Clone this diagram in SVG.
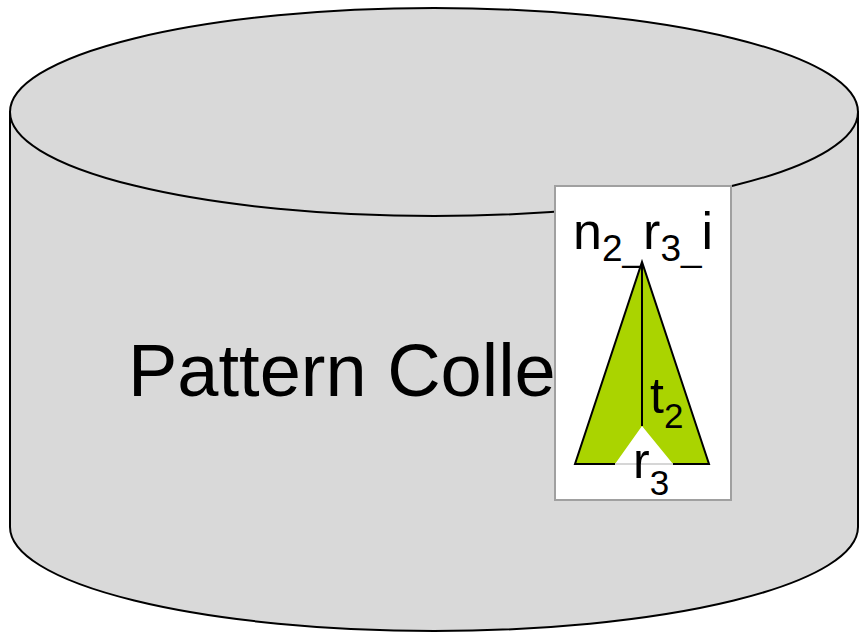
<svg xmlns="http://www.w3.org/2000/svg" width="859" height="633" viewBox="0 0 859 633">
<style>
.lbl{font-family:"Liberation Sans",Arial,sans-serif;fill:#000}
.big{font-size:50px}
.sub{font-size:35px}
.cyl{fill:#D9D9D9;stroke:#000;stroke-width:2}
</style>
<rect width="859" height="633" fill="#fff"/>
<g id="cylinder">
<path class="cyl" d="M10,112 L10,527 A424,104 0 0 0 858,527 L858,112 Z"/>
<ellipse class="cyl" cx="434" cy="112" rx="424" ry="104"/>
<text class="lbl" x="128" y="396" font-size="74">Pattern Colle</text>
</g>
<g id="pattern">
<rect x="555" y="186" width="176" height="314" fill="#fff" stroke="#A0A0A0" stroke-width="2"/>
<polygon points="575,464 642,262 709,464 673,464 642,426 615,464" fill="#AAD400"/>
<line x1="615" y1="464" x2="673" y2="464" stroke="#C8C8C8" stroke-width="1.5"/>
<polyline points="615,464 575,464 642,262 709,464 673,464" fill="none" stroke="#000" stroke-width="2"/>
<line x1="642" y1="262" x2="642" y2="426" stroke="#000" stroke-width="2"/>
<text class="lbl" x="573" y="249" font-size="52">n<tspan font-size="37" dy="12">2_</tspan><tspan dy="-12">r</tspan><tspan font-size="37" dy="12">3_</tspan><tspan dy="-12">i</tspan></text>
<text class="lbl big" x="650" y="413">t<tspan class="sub" dy="15">2</tspan></text>
<text class="lbl big" x="633" y="478">r<tspan class="sub" dy="17">3</tspan></text>
</g>
</svg>
